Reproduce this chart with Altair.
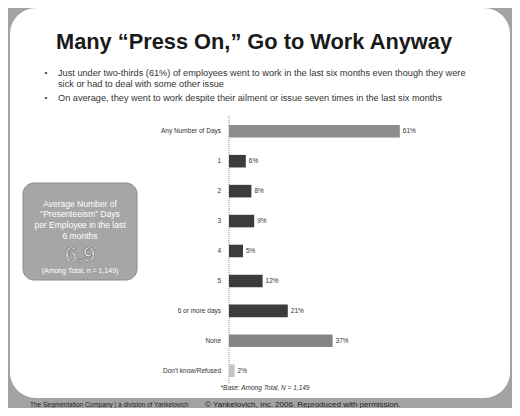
import altair as alt
import pandas as pd

categories = ["Any Number of Days", "1", "2", "3", "4", "5", "6 or more days", "None", "Don't know/Refused"]
values = [61, 6, 8, 9, 5, 12, 21, 37, 2]
groups = ["any", "days", "days", "days", "days", "days", "days", "none", "dk"]
labels = [f"{v}%" for v in values]

title_text = "Many \u201cPress On,\u201d Go to Work Anyway"
bullet_lines = [
    "Just under two-thirds (61%) of employees went to work in the last six months even though they were",
    "sick or had to deal with some other issue",
    "On average, they went to work despite their ailment or issue seven times in the last six months",
]
box_lines = ["Average Number of", "\u201cPresenteeism\u201d Days", "per Employee in the last", "6 months"]
box_value = "6.9"
box_base = "(Among Total, n = 1,149)"
base_note = "*Base: Among Total, N = 1,149"
footer_left = "The Segmentation Company | a division of Yankelovich"
footer_right = "\u00a9 Yankelovich, Inc. 2006. Reproduced with permission."

df = pd.DataFrame({"cat": categories, "val": values, "grp": groups, "lab": labels})

W, H = 504, 400
FONT = "Liberation Sans"

one = pd.DataFrame({"a": [0]})
base1 = alt.Chart(one)

# white rounded panel on gray frame
panel = base1.mark_rect(fill="white", cornerRadius=26).encode(
    x=alt.value(2), x2=alt.value(502), y=alt.value(0), y2=alt.value(390)
)

title = base1.mark_text(font=FONT, fontWeight="bold", fontSize=21.8, color="#1a1a1a",
                        align="center", baseline="alphabetic").encode(
    x=alt.value(246), y=alt.value(41), text=alt.value(title_text))

bullets = []
bullet_y = [65, 76, 90]
for i, (line, yy) in enumerate(zip(bullet_lines, bullet_y)):
    bullets.append(base1.mark_text(font=FONT, fontSize=9.2, color="#333", align="left",
                                   baseline="middle").encode(
        x=alt.value(50), y=alt.value(yy), text=alt.value(line)))
for yy in [65, 90]:
    bullets.append(base1.mark_text(font=FONT, fontSize=8, color="#333", align="center",
                                   baseline="middle").encode(
        x=alt.value(38), y=alt.value(yy), text=alt.value("\u2022")))

# left summary box
box = base1.mark_rect(fill="#a6a6a6", stroke="#8a8a8a", cornerRadius=11).encode(
    x=alt.value(15), x2=alt.value(129), y=alt.value(175), y2=alt.value(272))
box_texts = []
for line, yy in zip(box_lines, [196, 206, 217, 228]):
    box_texts.append(base1.mark_text(font=FONT, fontSize=8.5, color="white", align="center",
                                     baseline="middle").encode(
        x=alt.value(72), y=alt.value(yy), text=alt.value(line)))
box_texts.append(base1.mark_text(font=FONT, fontSize=22, color="#f4f4f4", stroke="#666",
                                 strokeWidth=0.6, align="center", baseline="middle").encode(
    x=alt.value(72), y=alt.value(247), text=alt.value(box_value)))
box_texts.append(base1.mark_text(font=FONT, fontSize=7, color="white", align="center",
                                 baseline="middle").encode(
    x=alt.value(72), y=alt.value(263), text=alt.value(box_base)))

# bar chart
xs = alt.Scale(domain=[0, 100], range=[221, 501])
ys = alt.Scale(domain=categories, range=[108, 378], paddingInner=0.58, paddingOuter=0.3)

bars = alt.Chart(df).mark_bar().encode(
    x=alt.X("val:Q", scale=xs, axis=None),
    x2=alt.value(221),
    y=alt.Y("cat:N", scale=ys, axis=None, sort=categories),
    color=alt.Color("grp:N", scale=alt.Scale(domain=["any", "days", "none", "dk"],
                                             range=["#8c8c8c", "#3c3c3c", "#858585", "#c4c4c4"]),
                    legend=None),
)
vlabels = alt.Chart(df).mark_text(font=FONT, fontSize=6.5, color="#333", align="left",
                                  baseline="middle", dx=3).encode(
    x=alt.X("val:Q", scale=xs, axis=None),
    y=alt.Y("cat:N", scale=ys, axis=None, sort=categories),
    text="lab:N",
)
clabels = alt.Chart(df).mark_text(font=FONT, fontSize=6.5, color="#333", align="right",
                                  baseline="middle").encode(
    x=alt.value(213),
    y=alt.Y("cat:N", scale=ys, axis=None, sort=categories),
    text="cat:N",
)
axis_line = base1.mark_rule(color="#888", strokeDash=[1, 1], strokeWidth=1).encode(
    x=alt.value(221), y=alt.value(108), y2=alt.value(376))

note = base1.mark_text(font=FONT, fontSize=6.5, fontStyle="italic", color="#333", align="center",
                       baseline="middle").encode(
    x=alt.value(257), y=alt.value(380), text=alt.value(base_note))

foot1 = base1.mark_text(font=FONT, fontSize=6.5, color="#222", align="left",
                        baseline="middle").encode(
    x=alt.value(22), y=alt.value(397), text=alt.value(footer_left))
foot2 = base1.mark_text(font=FONT, fontSize=8, color="#222", align="left",
                        baseline="middle").encode(
    x=alt.value(197), y=alt.value(397), text=alt.value(footer_right))

chart = alt.layer(
    panel, title, *bullets, box, *box_texts, axis_line, bars, vlabels, clabels, note, foot1, foot2
).properties(
    width=W, height=H, background="#a3a3a3", padding=0,
    autosize=alt.AutoSizeParams(type="none"),
).configure_view(stroke=None)

chart.save("out.html", embed_options={"renderer": "svg", "actions": False})
